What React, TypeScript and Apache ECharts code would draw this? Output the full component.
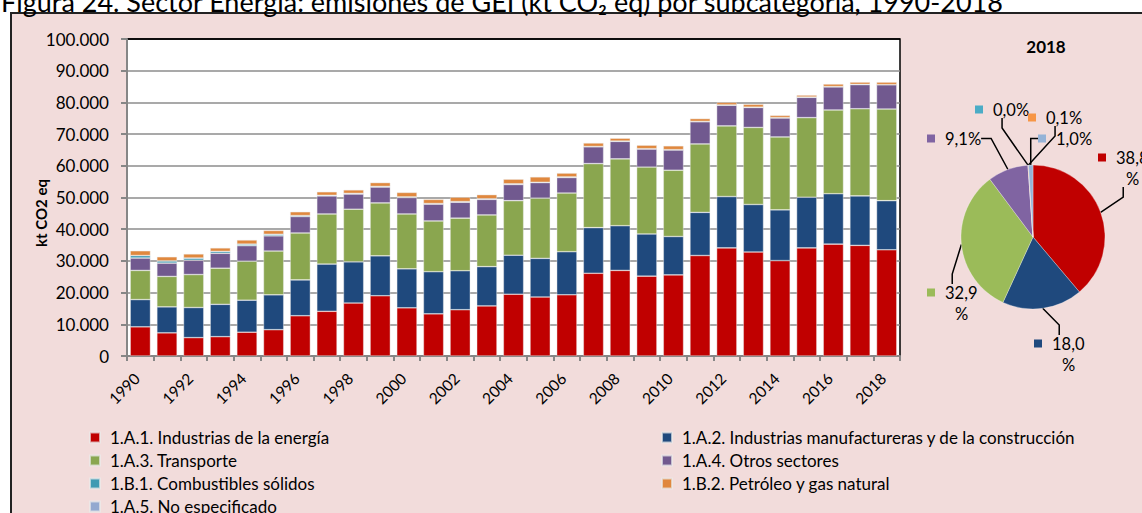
import React, { useEffect, useRef } from 'react';
import * as echarts from 'echarts';

const years = ['1990', '1991', '1992', '1993', '1994', '1995', '1996', '1997', '1998', '1999', '2000', '2001', '2002', '2003', '2004', '2005', '2006', '2007', '2008', '2009', '2010', '2011', '2012', '2013', '2014', '2015', '2016', '2017', '2018'];

const seriesNames = [
  '1.A.1. Industrias de la energía',
  '1.A.2. Industrias manufactureras y de la construcción',
  '1.A.3. Transporte',
  '1.A.4. Otros sectores',
  '1.B.1. Combustibles sólidos',
  '1.B.2. Petróleo y gas natural',
  '1.A.5. No especificado',
];

// kt CO2 eq
const energia = [9200, 7300, 5800, 6100, 7500, 8300, 12700, 14100, 16700, 19000, 15200, 13300, 14600, 15800, 19500, 18600, 19300, 26100, 27000, 25200, 25600, 31700, 34100, 32800, 30100, 34100, 35300, 34900, 33500];
const manufactura = [8600, 8200, 9500, 10200, 10100, 11000, 11300, 14900, 13000, 12600, 12300, 13300, 12300, 12400, 12300, 12200, 13600, 14400, 14100, 13300, 12100, 13600, 16200, 15000, 16000, 16000, 15900, 15600, 15500];
const transporte = [9200, 9600, 10400, 11400, 12300, 13800, 14800, 15800, 16600, 16700, 17300, 16000, 16600, 16300, 17200, 19000, 18500, 20200, 21100, 21100, 20900, 21600, 22300, 24300, 23000, 25100, 26400, 27500, 28900];
const otros = [3900, 4200, 4500, 4700, 4900, 4800, 5200, 5700, 4800, 5000, 5200, 5300, 5000, 4900, 5100, 4900, 4900, 5300, 5500, 5700, 6400, 7000, 6500, 6300, 6000, 6400, 7300, 7600, 7700];
const solidos = [800, 700, 700, 600, 500, 500, 300, 200, 200, 200, 200, 200, 200, 200, 200, 100, 200, 100, 100, 100, 100, 100, 100, 100, 100, 100, 100, 100, 0];
const petroleo = [1500, 1300, 1300, 1100, 1300, 1200, 1200, 1100, 1100, 1200, 1400, 1300, 1400, 1300, 1500, 1700, 1200, 1100, 900, 1100, 1200, 900, 800, 900, 700, 600, 800, 700, 800];
const noEspecificado = [0, 0, 0, 0, 0, 0, 0, 0, 0, 0, 0, 0, 0, 0, 0, 0, 0, 0, 0, 0, 0, 0, 0, 0, 0, 0, 0, 0, 0];

const pieYear = '2018';
const pieShares = [38.8, 18.0, 32.9, 9.1, 0.0, 0.1, 1.0];

const barColors = ['#C00000', '#1F497D', '#8AA64F', '#71598F', '#3E9AB3', '#E0883E', '#93A9D0'];
const pieColors = ['#C00000', '#1F497D', '#9BBB59', '#8064A2', '#4BACC6', '#F79646', '#95B3D7'];

// label box top-left positions for pie labels (style)
const pieLabelPos = [
  [1098, 147],
  [1034, 333],
  [927, 282],
  [927, 128],
  [975, 99],
  [1028, 107],
  [1038, 128],
];

const FONT = 'Lato';

function fmtThousands(v: number) {
  return String(Math.round(v)).replace(/\B(?=(\d{3})+(?!\d))/g, '.');
}

export default function App() {
  const ref = useRef<HTMLDivElement>(null);

  useEffect(() => {
    if (!ref.current) return;
    const chart = echarts.init(ref.current, null, { renderer: 'svg' });

    const barData = [energia, manufactura, transporte, otros, solidos, noEspecificado, petroleo];
    const barIdx = [0, 1, 2, 3, 4, 6, 5];

    const barSeries = barIdx.map((ni, k) => ({
      name: seriesNames[ni],
      type: 'bar',
      stack: 'total',
      data: barData[k],
      barCategoryGap: '24%',
      itemStyle: {
        color: barColors[ni],
        borderColor: 'rgba(235,235,235,0.7)',
        borderWidth: 0.6,
      },
      emphasis: { disabled: true },
    }));

    const rich: any = {
      t: { fontSize: 16.5, fontFamily: FONT, color: '#000', padding: [0, 0, 0, 10], lineHeight: 21 },
      s: { width: 19, lineHeight: 21 },
      c: { fontSize: 16.5, fontFamily: FONT, color: '#000', align: 'center', lineHeight: 21 },
    };
    pieColors.forEach((c, i) => {
      rich['m' + i] = { width: 8, height: 8, backgroundColor: c };
    });

    const splitColors = ['#8c8c8c', '#8c8c8c', '#8c8c8c', '#8c8c8c', '#8c8c8c', '#8c8c8c', '#8c8c8c', '#8c8c8c', '#8c8c8c', '#8c8c8c', '#000'];

    const legendText = { fontSize: 17, fontFamily: FONT, color: '#000', padding: [0, 0, 0, 5] };

    const option: any = {
      animation: false,
      graphic: [
        {
          type: 'text',
          x: 1,
          y: 1.5,
          z: 10,
          style: {
            text: 'Figura 24. Sector Energía: emisiones de GEI (kt CO₂ eq) por subcategoría, 1990-2018',
            font: `27px ${FONT}`,
            fill: '#000',
            align: 'left',
            verticalAlign: 'middle',
          },
        },
        {
          type: 'text',
          x: 1046,
          y: 46,
          style: {
            text: pieYear,
            font: `bold 17px ${FONT}`,
            fill: '#000',
            align: 'center',
            verticalAlign: 'middle',
          },
        },
        {
          type: 'text',
          x: 41,
          y: 213,
          rotation: Math.PI / 2,
          style: {
            text: 'kt CO2 eq',
            font: `bold 15px ${FONT}`,
            fill: '#000',
            align: 'center',
            verticalAlign: 'middle',
          },
        },
      ],
      grid: {
        left: 127,
        top: 39,
        width: 773,
        height: 317,
        show: true,
        backgroundColor: '#ffffff',
        borderColor: '#000',
        borderWidth: 1.5,
      },
      legend: [
        {
          orient: 'vertical',
          left: 84,
          top: 424,
          height: 120,
          itemWidth: 10,
          itemHeight: 10,
          itemGap: 6,
          icon: 'rect',
          selectedMode: false,
          data: [seriesNames[0], seriesNames[2], seriesNames[4], seriesNames[6]],
          textStyle: legendText,
        },
        {
          orient: 'vertical',
          left: 656,
          top: 424,
          height: 120,
          itemWidth: 10,
          itemHeight: 10,
          itemGap: 6,
          icon: 'rect',
          selectedMode: false,
          data: [seriesNames[1], seriesNames[3], seriesNames[5]],
          textStyle: legendText,
        },
      ],
      xAxis: {
        type: 'category',
        data: years,
        boundaryGap: true,
        axisLine: { lineStyle: { color: '#868686', width: 2 } },
        axisTick: { show: true, interval: 0, length: 5, lineStyle: { color: '#868686', width: 2 } },
        axisLabel: {
          interval: 1,
          rotate: 45,
          fontSize: 15.5,
          fontFamily: FONT,
          color: '#000',
          margin: 16,
          padding: [0, 5, 0, 0],
        },
      },
      yAxis: {
        type: 'value',
        min: 0,
        max: 100000,
        interval: 10000,
        axisLine: { show: true, lineStyle: { color: '#868686', width: 2 } },
        axisTick: { show: true, length: 6, lineStyle: { color: '#868686', width: 2 } },
        splitLine: { show: true, lineStyle: { color: splitColors, width: 1.5 } },
        axisLabel: {
          formatter: (v: number) => fmtThousands(v),
          fontSize: 17,
          fontFamily: FONT,
          color: '#000',
          margin: 18,
        },
      },
      series: [
        ...barSeries,
        {
          name: 'pie' + pieYear,
          type: 'pie',
          center: [1033, 237],
          radius: 72,
          startAngle: 90,
          clockwise: true,
          avoidLabelOverlap: false,
          emphasis: { disabled: true },
          itemStyle: { borderColor: 'rgba(255,255,255,0.6)', borderWidth: 0.5 },
          data: pieShares.map((v, i) => ({
            name: seriesNames[i],
            value: v,
            itemStyle: { color: pieColors[i] },
          })),
          label: {
            show: true,
            position: 'outside',
            formatter: (p: any) => {
              const i = p.dataIndex;
              const txt = Number(p.value).toFixed(1).replace('.', ',');
              if (p.value >= 10) return `{m${i}|}{t|${txt}}\n{s|}{c|%}`;
              return `{m${i}|}{t|${txt}%}`;
            },
            rich,
          },
          labelLine: {
            show: true,
            length: 10,
            length2: 10,
            lineStyle: { color: '#000', width: 1.5 },
          },
          labelLayout: (params: any) => {
            const pos = pieLabelPos[params.dataIndex];
            return { x: pos[0], y: pos[1], align: 'left', verticalAlign: 'top' };
          },
        },
      ],
    };

    chart.setOption(option);
    return () => chart.dispose();
  }, []);

  return (
    <div style={{ position: 'fixed', left: 0, top: 0, width: 1142, height: 513, overflow: 'hidden', background: '#fff' }}>
      <div
        style={{
          position: 'absolute',
          left: 10,
          top: 12,
          width: 1150,
          height: 520,
          border: '2px solid #222',
          background: '#F2DCDB',
        }}
      />
      <div ref={ref} style={{ position: 'absolute', left: 0, top: 0, width: 1142, height: 513 }} />
    </div>
  );
}
